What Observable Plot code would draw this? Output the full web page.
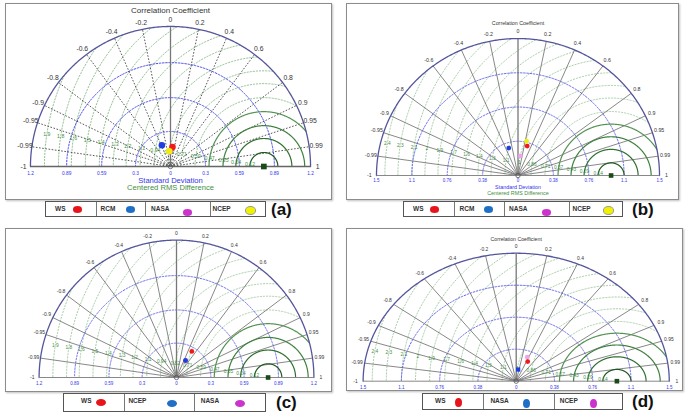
<!DOCTYPE html>
<html><head><meta charset="utf-8">
<script src="https://cdn.jsdelivr.net/npm/d3@7"></script>
<script src="https://cdn.jsdelivr.net/npm/@observablehq/plot@0.6"></script>
<style>
body{margin:0;background:#fff;font-family:"Liberation Sans",Arial,sans-serif;}
#root{position:relative;width:685px;height:416px;overflow:hidden;background:#fff}
.panel{position:absolute;outline:1px solid #8c8c8c;outline-offset:-1px;box-shadow:1px 1px 2px rgba(0,0,0,0.25);}
.panel svg{display:block;position:absolute;left:0;top:0}
.legend{position:absolute;display:flex;border:1px solid #555;box-sizing:border-box;background:#fff}
.cell{position:relative;border-right:1px solid #777;box-sizing:border-box;height:100%}
.cell:last-child{border-right:none}
.cell .lab{position:absolute;font-size:6.5px;font-weight:bold;color:#333;top:3px}
.cell .sw{position:absolute;border-radius:50%}
.tag{position:absolute;font-weight:bold;font-size:17px;color:#111;line-height:1}
</style></head><body><div id="root"></div><script>
// ---------- data ----------
const corrTicks  = [-1,-0.99,-0.95,-0.9,-0.8,-0.6,-0.4,-0.2,0,0.2,0.4,0.6,0.8,0.9,0.95,0.99,1];
const corrLabels = ["-1","-0.99","-0.95","-0.9","-0.8","-0.6","-0.4","-0.2","0","0.2","0.4","0.6","0.8","0.9","0.95","0.99","1"];

const sdTicksAC  = [0.3,0.59,0.89,1.2];
const sdLabelsAC = ["0.3","0.59","0.89","1.2"];
const sdTicksBD  = [0.38,0.76,1.14,1.52];
const sdLabelsBD = ["0.38","0.76","1.1","1.5"];

const rmsAC       = [0.12,0.24,0.35,0.47,0.59,0.71,0.82,0.94,1.06,1.18,1.29,1.41,1.53,1.65,1.76,1.88];
const rmsLabelsAC = ["0.12","0.24","0.35","0.47","0.59","0.71","0.82","0.94","1.1","1.2","1.3","1.4","1.5","1.6","1.8","1.9"];
const rmsBD       = [0.14,0.29,0.43,0.57,0.71,0.86,1,1.14,1.29,1.43,1.57,1.71,1.86,2,2.14,2.29,2.43];
const rmsLabelsBD = ["0.14","0.29","0.43","0.57","0.71","0.86","1","1.1","1.3","1.4","1.6","1.7","1.9","2","2.1","2.3","2.4"];

const refA = 0.8, refB = 1.0, refC = 0.8, refD = 1.0;

// points (standard deviation, correlation)
const seriesA = ["NASA","RCM","WS","NCEP"];
const sdA     = [0.13,0.197,0.167,0.131];
const corrA   = [-0.05,-0.375,0.10,-0.08];
const seriesB = ["NASA","RCM","NCEP","WS"];
const sdB     = [0.219,0.32,0.391,0.341];
const corrB   = [0.12,-0.31,0.236,0.29];
const seriesC = ["NASA","NCEP","WS"];
const sdC     = [0.165,0.169,0.264];
const corrC   = [0.47,0.47,0.507];
const seriesD = ["NCEP","NASA","WS"];
const sdD     = [0.305,0.14,0.26];
const corrD   = [0.36,0.14,0.44];

const colorsAB = {WS:"#f01818",RCM:"#1f3ee0",NASA:"#d040d0",NCEP:"#eeee10"};
const colorsC  = {WS:"#f01818",NCEP:"#1f3ee0",NASA:"#d040d0"};
const colorsD  = {WS:"#f01818",NASA:"#1f3ee0",NCEP:"#e8a8e8"};

const legendA = ["WS","RCM","NASA","NCEP"];
const legendSwA = ["#e8141b","#1f6fc6","#cc33cc","#f2f200"];
const legendC = ["WS","NCEP","NASA"];
const legendSwC = ["#e8141b","#1f6fc6","#cc33cc"];
const legendD = ["WS","NASA","NCEP"];
const legendSwD = ["#e8141b","#1f6fc6","#cc33cc"];

// ---------- drawing ----------
const root = document.getElementById("root");
const deg = Math.PI/180;

function taylor(c){
  const xDom = [-c.cx/c.kx, (c.w - c.cx)/c.kx];
  const yDom = [(c.cy - c.h)/c.ky, c.cy/c.ky];
  const angles = d3.range(0, 180.01, 0.5).map(a => a*deg);
  const circ = (rs, cx0) => rs.flatMap((r,i) => angles.map(t => {
    const x = cx0 + r*Math.cos(t), y = r*Math.sin(t);
    const ok = Math.hypot(x,y) <= c.sdMax + 1e-9;
    return {i, x: ok ? x : NaN, y: ok ? y : NaN};
  }));
  const rmsPts = circ(c.rms, c.ref);
  const solidN = 4;
  const solidCols = ["#1e5a1e","#2f6f2f","#3f803f","#559355"];
  const marks = [];
  marks.push(Plot.line(rmsPts.filter(d => d.i >= solidN), {x:"x", y:"y", z:"i", stroke:c.rmsDot, strokeWidth:0.9, strokeDasharray:"1.3,1.8"}));
  const sdInner = c.sdTicks.slice(0,-1);
  marks.push(Plot.line(circ(sdInner, 0), {x:"x", y:"y", z:"i", stroke:c.sdDot, strokeWidth:1, strokeDasharray:"1.6,1.6"}));
  marks.push(Plot.link(corrTicks.filter(v => Math.abs(v) < 1 && v !== 0), {
    x1: () => 0, y1: () => 0,
    x2: v => c.sdMax*v, y2: v => c.sdMax*Math.sqrt(1 - v*v),
    stroke: c.radial, strokeWidth: c.radialW, strokeDasharray: c.radialDash
  }));
  marks.push(Plot.link([0], {x1: () => 0, y1: () => 0, x2: () => 0, y2: () => c.sdMax, stroke:"#777", strokeWidth:1.3}));
  for (let k = 0; k < solidN; k++) {
    marks.push(Plot.line(rmsPts.filter(d => d.i === k), {x:"x", y:"y", stroke:solidCols[k], strokeWidth:1.2}));
  }
  marks.push(Plot.line(circ([c.sdMax], 0), {x:"x", y:"y", stroke:"#55559c", strokeWidth:1.3}));
  marks.push(Plot.link([0], {x1: () => -c.sdMax, x2: () => c.sdMax, y1: () => 0, y2: () => 0, stroke:c.base, strokeWidth:c.baseW}));
  marks.push(Plot.dot([0], {x: () => 0, y: () => 0, r:2.2, stroke:"#555", strokeWidth:0.8, fill:"none"}));
  const L = 1.05;
  marks.push(Plot.text(corrTicks, {
    x: v => L*c.sdMax*v, y: v => L*c.sdMax*Math.sqrt(1 - v*v),
    text: (v,i) => corrLabels[i], fontSize:c.corrFs, fill:"#333"
  }));
  const sdAll = [...c.sdTicks.map((v,i)=>({v:-v,t:c.sdLabels[i]})), {v:0,t:"0"}, ...c.sdTicks.map((v,i)=>({v,t:c.sdLabels[i]}))];
  marks.push(Plot.text(sdAll, {x:"v", y: () => 0, text:"t", dy:c.sdDy, fontSize:c.sdFs, fill:"#3434ee"}));
  const la = 171.5*deg;
  const rmsLab = c.rms.map((r,i) => ({x: c.ref + r*Math.cos(la), y: r*Math.sin(la), t: c.rmsLabels[i]}))
    .filter(d => Math.hypot(d.x, d.y) < c.sdMax);
  marks.push(Plot.text(rmsLab, {x:"x", y:"y", text:"t", fontSize:c.rmsFs, fill:"#3f8f3f"}));
  if (c.titleTop) marks.push(Plot.text([c.titleTop], {x: () => 0, frameAnchor:"top", dy:c.titleDy, fontSize:c.titleFs, fill:"#333"}));
  if (c.titleSd) {
    marks.push(Plot.text([c.titleSd], {x: () => 0, y: () => 0, dy:c.sdTitleDy, fontSize:c.subFs, fill:"#3434ee"}));
    marks.push(Plot.text([c.titleRms], {x: () => 0, y: () => 0, dy:c.rmsTitleDy, fontSize:c.subFs, fill:"#3f8f3f"}));
  }
  marks.push(Plot.dot([c.ref], {x: d => d, y: () => 0, symbol:"square", r:c.refR, fill:"#1a4a1a"}));
  const pts = c.series.map((s,i) => ({s, sd:c.sd[i], corr:c.corr[i]}));
  marks.push(Plot.dot(pts, {
    x: d => d.sd*d.corr, y: d => d.sd*Math.sqrt(1 - d.corr*d.corr),
    fill: d => c.colors[d.s], r: c.ptR, symbol: d => (c.squares && c.squares.includes(d.s)) ? "square" : "circle"
  }));

  const svg = Plot.plot({
    width:c.w, height:c.h, margin:0,
    x:{domain:xDom, axis:null}, y:{domain:yDom, axis:null},
    color:{type:"identity"}, symbol:{type:"identity"},
    style:{fontFamily:"'Liberation Sans',Arial,sans-serif", background:"transparent"},
    marks
  });
  const div = document.createElement("div");
  div.className = "panel";
  Object.assign(div.style, {left:c.left+"px", top:c.top+"px", width:c.w+"px", height:c.h+"px"});
  div.appendChild(svg);
  root.appendChild(div);
}

function legend(c){
  const div = document.createElement("div");
  div.className = "legend";
  Object.assign(div.style, {left:c.left+"px", top:c.top+"px", width:c.w+"px", height:c.h+"px"});
  c.labels.forEach((lab,i) => {
    const cell = document.createElement("div");
    cell.className = "cell";
    cell.style.width = c.cellW[i]+"px";
    const t = document.createElement("span");
    t.className = "lab"; t.textContent = lab; t.style.left = c.labX[i]+"px";
    const s = document.createElement("span");
    s.className = "sw";
    Object.assign(s.style, {left:c.swX[i]+"px", top:c.swY[i]+"px", width:c.swW+"px", height:c.swH+"px", background:c.sw[i], border: c.sw[i]==="#f2f200" ? "0.5px solid #999" : "none"});
    cell.appendChild(t); cell.appendChild(s);
    div.appendChild(cell);
  });
  root.appendChild(div);
  const tag = document.createElement("div");
  tag.className = "tag"; tag.textContent = c.tag;
  Object.assign(tag.style, {left:c.tagX+"px", top:c.tagY+"px"});
  root.appendChild(tag);
}

taylor({left:5, top:3, w:327, h:197, cx:165, cy:163, kx:116.7, ky:116.7, sdMax:1.2, ref:refA,
  sdTicks:sdTicksAC, sdLabels:sdLabelsAC, rms:rmsAC, rmsLabels:rmsLabelsAC,
  series:seriesA, sd:sdA, corr:corrA, colors:colorsAB,
  rmsDot:"#86b886", sdDot:"#4646ee", radial:"#3a3a3a", radialW:0.85, radialDash:"1.6,1.6", base:"#666", baseW:1.4,
  corrFs:6.8, sdFs:4.8, rmsFs:5.2, sdDy:6.5, titleTop:"Correlation Coefficient", titleDy:4, titleFs:8,
  titleSd:"Standard Deviation", titleRms:"Centered RMS Difference", sdTitleDy:14, rmsTitleDy:21.5, subFs:7.6,
  refR:3.2, ptR:3.3});

taylor({left:346, top:3, w:333, h:197, cx:171.5, cy:172, kx:93.1, ky:90.1, sdMax:1.52, ref:refB,
  sdTicks:sdTicksBD, sdLabels:sdLabelsBD, rms:rmsBD, rmsLabels:rmsLabelsBD,
  series:seriesB, sd:sdB, corr:corrB, colors:Object.assign({}, colorsAB, {NASA:"#eaa6ea"}),
  rmsDot:"#a0c8a0", sdDot:"#6464ee", radial:"#6a6a6a", radialW:0.8, radialDash:null, base:"#888", baseW:1,
  corrFs:5.3, sdFs:4.5, rmsFs:4.8, sdDy:5.5, titleTop:"Correlation Coefficient", titleDy:18, titleFs:5.3,
  titleSd:"Standard Deviation", titleRms:"Centered RMS Difference", sdTitleDy:12, rmsTitleDy:18, subFs:5.4,
  refR:2.6, ptR:2.4});

taylor({left:5, top:228, w:327, h:164, cx:171, cy:149, kx:114.5, ky:114.5, sdMax:1.2, ref:refC,
  sdTicks:sdTicksAC, sdLabels:sdLabelsAC, rms:rmsAC, rmsLabels:rmsLabelsAC,
  series:seriesC, sd:sdC, corr:corrC, colors:colorsC,
  rmsDot:"#a0c8a0", sdDot:"#6a6aee", radial:"#6a6a6a", radialW:0.8, radialDash:null, base:"#888", baseW:1,
  corrFs:5, sdFs:4.5, rmsFs:4.8, sdDy:6,
  refR:2.6, ptR:2.4});

taylor({left:346, top:228, w:337, h:163, cx:169.7, cy:152.7, kx:100.7, ky:84.2, sdMax:1.52, ref:refD,
  sdTicks:sdTicksBD, sdLabels:sdLabelsBD, rms:rmsBD, rmsLabels:rmsLabelsBD,
  series:seriesD, sd:sdD, corr:corrD, colors:colorsD, squares:["NASA"],
  rmsDot:"#a0c8a0", sdDot:"#6464ee", radial:"#6a6a6a", radialW:0.8, radialDash:null, base:"#888", baseW:1,
  corrFs:4.9, sdFs:4.5, rmsFs:4.8, sdDy:6, titleTop:"Correlation Coefficient", titleDy:8.5, titleFs:5.2,
  refR:2.6, ptR:2.4});

legend({left:45, top:201, w:221, h:16, labels:legendA, sw:legendSwA, cellW:[51,50,65,55],
  labX:[9,4,5,2], swX:[27,29,37,34], swY:[4,4,7,4], swW:9, swH:6.5, tag:"(a)", tagX:271, tagY:201});
legend({left:403, top:201, w:220, h:16, labels:legendA, sw:legendSwA, cellW:[51,51,65,53],
  labX:[9,5,4,3], swX:[26,29,37,33], swY:[4,4,7,4], swW:9, swH:6.5, tag:"(b)", tagX:632, tagY:201});
legend({left:63, top:393, w:203, h:19, labels:legendC, sw:legendSwC, cellW:[62,70,71],
  labX:[17,3,6], swX:[32,42,40], swY:[5,6,6], swW:10, swH:7, tag:"(c)", tagX:276, tagY:394});
legend({left:422, top:393, w:201, h:17, labels:legendD, sw:legendSwD, cellW:[62,71,68],
  labX:[12,6,5], swX:[32,39,35], swY:[4,5,5], swW:7, swH:9, tag:"(d)", tagX:632, tagY:393});
</script></body></html>
